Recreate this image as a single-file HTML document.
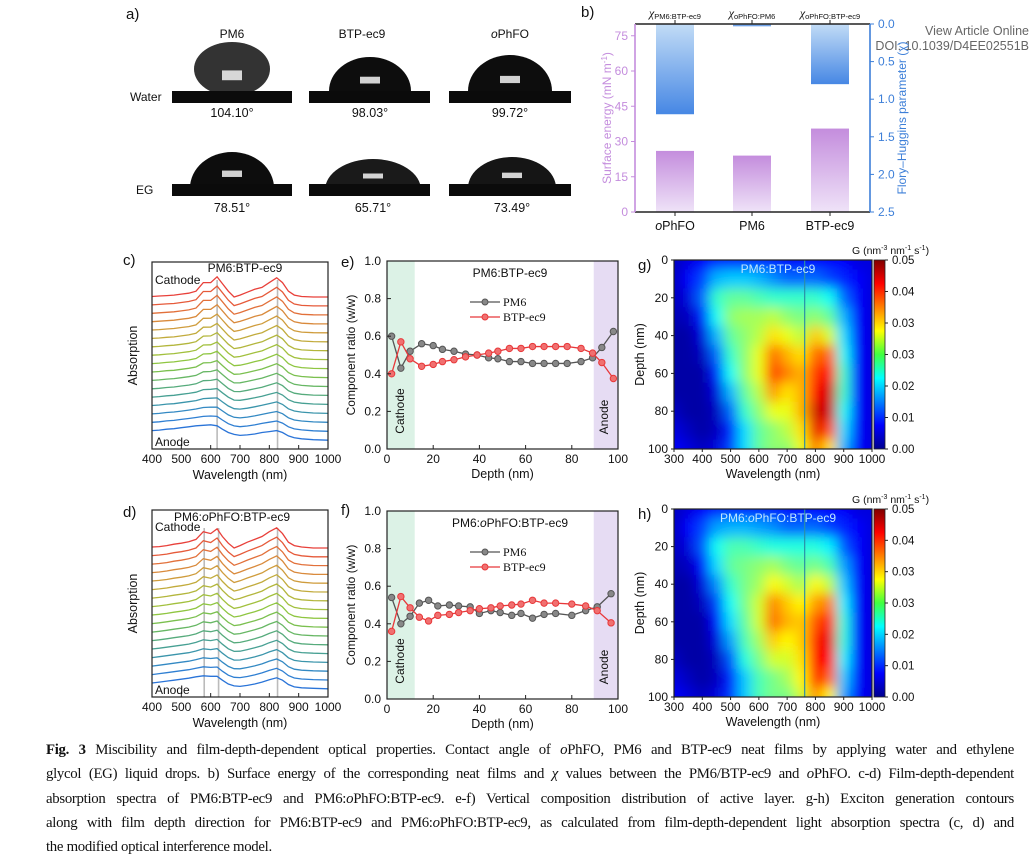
<!DOCTYPE html>
<html><head><meta charset="utf-8">
<style>
html,body{margin:0;padding:0;background:#fff;width:1031px;height:859px;overflow:hidden}
svg{display:block}
text{font-family:"Liberation Sans",sans-serif;fill:#111}
.t{font-size:12px}
.cap{position:absolute;left:46px;top:738px;width:968px;font-family:"Liberation Serif",serif;font-size:14.8px;line-height:24.3px;color:#111;letter-spacing:-0.3px}
.cap div{text-align:justify;text-align-last:justify;white-space:nowrap}
.cap div.last{text-align-last:left}
</style></head><body>
<svg id="fig" width="1031" height="859" viewBox="0 0 1031 859">
<defs id="defs">
<linearGradient id="gp" x1="0" y1="0" x2="0" y2="1"><stop offset="0" stop-color="#c48ddd"/><stop offset="1" stop-color="#efe3f8"/></linearGradient>
<linearGradient id="gb" x1="0" y1="0" x2="0" y2="1"><stop offset="0" stop-color="#c2dcf6"/><stop offset="1" stop-color="#4687e4"/></linearGradient>
<filter id="blur" x="-5%" y="-5%" width="110%" height="110%"><feGaussianBlur stdDeviation="6"/></filter>
<clipPath id="clipg"><rect x="674" y="260" width="198" height="189"/></clipPath>
<clipPath id="cliph"><rect x="674" y="509" width="198" height="188"/></clipPath>
<clipPath id="clipw"><rect x="100" y="0" width="500" height="91"/></clipPath>
<clipPath id="clipe"><rect x="100" y="120" width="500" height="64"/></clipPath>
<linearGradient id="jet" x1="0" y1="1" x2="0" y2="0">
<stop offset="0" stop-color="#00008f"/><stop offset="0.125" stop-color="#0000ff"/><stop offset="0.375" stop-color="#00ffff"/><stop offset="0.5" stop-color="#40ff40"/><stop offset="0.625" stop-color="#ffff00"/><stop offset="0.875" stop-color="#ff0000"/><stop offset="1" stop-color="#800000"/></linearGradient>
</defs>

<text x="1029" y="35" text-anchor="end" style="font-size:12.5px;fill:#666">View Article Online</text>
<text x="1029" y="50" text-anchor="end" style="font-size:12.5px;fill:#666">DOI: 10.1039/D4EE02551B</text>

<g id="pa">
<text x="126" y="19" style="font-size:15px">a)</text>
<text x="232" y="38" class="t" text-anchor="middle">PM6</text>
<text x="362" y="38" class="t" text-anchor="middle">BTP-ec9</text>
<text x="510" y="38" class="t" text-anchor="middle"><tspan font-style="italic">o</tspan>PhFO</text>
<text x="130" y="101" class="t">Water</text>
<text x="136" y="194" class="t">EG</text>
</g>

<g id="pb">
<text x="581" y="17" style="font-size:15px">b)</text>
<text transform="translate(611,118) rotate(-90)" text-anchor="middle" style="font-size:12px;fill:#c48ddd">Surface energy (mN m<tspan dy="-4" font-size="8">-1</tspan><tspan dy="4">)</tspan></text>
<text transform="translate(906,118) rotate(-90)" text-anchor="middle" style="font-size:12px;fill:#3d7fd8">Flory–Huggins parameter (χ)</text>
</g>

<text x="123" y="265" style="font-size:15px">c)</text>
<text x="123" y="517" style="font-size:15px">d)</text>
<text x="341" y="267" style="font-size:15px">e)</text>
<text x="341" y="515" style="font-size:15px">f)</text>
<text x="638" y="270" style="font-size:15px">g)</text>
<text x="638" y="519" style="font-size:15px">h)</text>
</svg>

<div class="cap">
<div><b>Fig. 3</b> Miscibility and film-depth-dependent optical properties. Contact angle of <i>o</i>PhFO, PM6 and BTP-ec9 neat films by applying water and ethylene</div>
<div>glycol (EG) liquid drops. b) Surface energy of the corresponding neat films and <i>χ</i> values between the PM6/BTP-ec9 and <i>o</i>PhFO. c-d) Film-depth-dependent</div>
<div>absorption spectra of PM6:BTP-ec9 and PM6:<i>o</i>PhFO:BTP-ec9. e-f) Vertical composition distribution of active layer. g-h) Exciton generation contours</div>
<div>along with film depth direction for PM6:BTP-ec9 and PM6:<i>o</i>PhFO:BTP-ec9, as calculated from film-depth-dependent light absorption spectra (c, d) and</div>
<div class="last">the modified optical interference model.</div>
</div>

<script>
// ---------- DATA ----------
const dropNames = ['pm6-water','btp-water','ophfo-water','pm6-eg','btp-eg','ophfo-eg'];
const dropAngles = ['104.10°','98.03°','99.72°','78.51°','65.71°','73.49°'];
const bCategories = ['oPhFO','PM6','BTP-ec9'];
const surfaceEnergy = [26, 24, 35.5];
const chiLabels = ['PM6:BTP-ec9','oPhFO:PM6','oPhFO:BTP-ec9'];
const chiValues = [1.2, 0.03, 0.8];
const bLeftTicks = [0, 15, 30, 45, 60, 75];
const bRightTicks = [0.0, 0.5, 1.0, 1.5, 2.0, 2.5];
const specWl = [400,425,450,475,500,525,550,575,600,622,640,660,680,700,725,750,775,800,825,845,865,885,910,950,1000];
const specTopC = [0.1,0.2,0.3,0.4,0.6,0.8,1.2,3.0,3.0,4.2,2.8,1.2,0.0,0.4,1.0,1.6,2.0,3.0,4.0,3.0,1.2,0.4,0.1,0.0,0.0];
const specBotC = [2.0,2.1,2.3,2.4,2.6,2.8,3.0,3.1,3.2,3.0,2.3,1.6,1.2,1.0,1.1,1.3,1.6,1.8,2.0,1.6,0.9,0.5,0.3,0.1,0.0];
const specTopD = [0.2,0.3,0.5,0.8,1.0,1.3,1.8,3.4,3.0,4.0,2.4,1.0,0.0,0.5,1.2,1.8,2.4,3.4,4.2,3.0,1.2,0.5,0.2,0.0,0.0];
const specBotD = [1.2,1.4,1.6,1.8,2.0,2.2,2.5,2.7,2.6,2.6,1.8,1.0,0.6,0.5,0.7,1.0,1.4,1.9,2.3,1.8,0.9,0.4,0.2,0.1,0.0];
const curveMix = [0,0.06,0.12,0.18,0.25,0.31,0.37,0.43,0.5,0.56,0.62,0.68,0.75,0.81,0.87,0.93,1];
const curveColors = ['#e8403a','#e65a3a','#e2703a','#d98a3c','#cf9c3c','#c2ab3c','#b3b63c','#a2c03d','#8fc641','#7bc04f','#67b764','#56ab7c','#47a093','#3b95ab','#3389c3','#2f7fd2','#2a74d8'];
const cGuides = [622, 828];
const dGuides = [578, 627, 828];
const specXTicks = [400,500,600,700,800,900,1000];
const depthE = [2,6,10,15,20,24,29,34,39,44,48,53,58,63,68,73,78,84,89,93,98];
const pm6E = [.60,.43,.52,.56,.55,.53,.52,.505,.50,.485,.48,.465,.465,.455,.455,.455,.455,.465,.485,.54,.625];
const btpE = [.40,.57,.48,.44,.45,.465,.475,.49,.50,.51,.52,.535,.535,.545,.545,.545,.545,.535,.51,.46,.375];
const depthF = [2,6,10,14,18,22,27,31,36,40,45,49,54,58,63,68,73,80,86,91,97];
const pm6F = [.54,.40,.44,.51,.525,.495,.50,.495,.49,.455,.47,.46,.445,.455,.43,.45,.455,.445,.47,.49,.56];
const btpF = [.36,.545,.485,.435,.415,.445,.45,.46,.47,.48,.485,.495,.50,.505,.525,.51,.51,.505,.495,.47,.405];
const ratioTicks = [0,0.2,0.4,0.6,0.8,1.0];
const depthTicks = [0,20,40,60,80,100];
const hmWl = [300,350,400,450,500,550,600,650,700,750,800,850,900,950,1000];
const hmDepth = [0,10,20,30,40,50,60,70,80,90,100];
const hmG = [
[.006,.008,.010,.012,.012,.012,.012,.012,.010,.010,.010,.010,.010,.008,.008],
[.006,.010,.014,.020,.021,.021,.020,.018,.016,.016,.016,.014,.012,.010,.008],
[.006,.008,.016,.026,.028,.028,.027,.026,.026,.026,.026,.024,.016,.010,.008],
[.005,.006,.012,.024,.030,.031,.031,.032,.030,.029,.030,.028,.020,.010,.008],
[.004,.004,.008,.020,.028,.030,.032,.036,.034,.032,.037,.033,.022,.010,.008],
[.004,.004,.006,.016,.026,.030,.034,.041,.038,.036,.041,.041,.024,.010,.008],
[.004,.004,.004,.012,.024,.030,.034,.043,.040,.038,.043,.045,.026,.010,.008],
[.004,.004,.004,.008,.020,.028,.032,.039,.036,.038,.045,.047,.026,.010,.008],
[.006,.004,.004,.006,.016,.026,.030,.034,.034,.038,.047,.047,.024,.010,.008],
[.008,.006,.004,.006,.012,.022,.028,.030,.032,.036,.046,.042,.022,.010,.008],
[.010,.008,.006,.008,.014,.022,.028,.030,.030,.034,.040,.036,.020,.010,.008]];
const hmH = [
[.006,.008,.010,.012,.012,.012,.012,.012,.010,.010,.010,.010,.010,.008,.008],
[.006,.010,.014,.019,.020,.020,.019,.018,.016,.016,.016,.014,.012,.010,.008],
[.006,.008,.015,.024,.027,.027,.026,.025,.025,.025,.025,.023,.015,.010,.008],
[.005,.006,.011,.022,.028,.029,.030,.031,.029,.028,.029,.027,.019,.010,.008],
[.004,.004,.008,.018,.026,.029,.031,.035,.033,.031,.035,.032,.021,.010,.008],
[.004,.004,.006,.014,.024,.029,.033,.040,.037,.035,.039,.040,.023,.010,.008],
[.004,.004,.004,.011,.022,.028,.033,.041,.038,.037,.042,.044,.025,.010,.008],
[.004,.004,.004,.008,.019,.027,.031,.037,.035,.037,.044,.046,.025,.010,.008],
[.006,.004,.004,.006,.015,.025,.029,.033,.033,.036,.045,.045,.023,.010,.008],
[.008,.006,.004,.006,.012,.021,.027,.029,.031,.035,.044,.041,.021,.010,.008],
[.010,.008,.006,.008,.013,.021,.027,.029,.029,.033,.039,.035,.019,.010,.008]];
const hmXTicks = [300,400,500,600,700,800,900,1000];
const cbTicks = ['0.00','0.01','0.02','0.03','0.03','0.04','0.05'];

// ---------- DRAW ----------
const NS='http://www.w3.org/2000/svg';
const svg=document.getElementById('fig');
function mk(tag,parent){const e=document.createElementNS(NS,tag);(parent||svg).appendChild(e);return e;}
function set(e,o){for(const k in o)e.setAttribute(k,o[k]);return e;}
function txt(parent,x,y,s,anchor,size,fill){const t=mk('text',parent);set(t,{x:x,y:y,'text-anchor':anchor||'middle'});t.style.fontSize=(size||12)+'px';if(fill)t.style.fill=fill;t.textContent=s;return t;}

// panel a drops
const pa=document.getElementById('pa');
const dropCx=[[232,370,510],[232,373,512]], subX=[[172,292],[309,430],[449,571]];
const dropEll=[[38,27,-22],[41,34,0],[42,36,0],[42,36,4],[48,31,6],[44,31,4]];
const dropFill=['#333','#0d0d0d','#0d0d0d','#0d0d0d','#1a1a1a','#151515'];
for(let i=0;i<6;i++){
  const col=i%3,row=Math.floor(i/3);
  const sy=row===0?91:184;
  const g=mk('g',pa);
  
  
  const cx=dropCx[row][col], e=dropEll[i];
  const el=set(mk('ellipse',g),{cx:cx,cy:sy+e[2],rx:e[0],ry:e[1],fill:dropFill[i],'clip-path':row===0?'url(#clipw)':'url(#clipe)'});
  set(mk('rect',g),{x:subX[col][0],y:sy,width:subX[col][1]-subX[col][0],height:12,fill:'#0b0b0b'});
  const top=sy+e[2]-e[1], h=sy-top;
  set(mk('rect',g),{x:cx-10,y:sy-h*0.42,width:20,height:Math.max(5,h*0.2),fill:'#f4f4f4',opacity:0.85});
  const t=txt(pa,cx,row===0?117:212,dropAngles[i],'middle',12.5);
  
  
}

// panel b
const pb=document.getElementById('pb');
const bx0=635,bx1=870,by0=24,by1=212;
const yL=v=>by1-(v/80)*(by1-by0);
const yR=v=>by0+(v/2.5)*(by1-by0);
const bCenters=[675,752,830], bw=38;
for(let i=0;i<3;i++){
  const r=set(mk('rect',pb),{x:bCenters[i]-bw/2,y:yL(surfaceEnergy[i]),width:bw,height:by1-yL(surfaceEnergy[i]),fill:'url(#gp)'});
  
  
  const c=set(mk('rect',pb),{x:bCenters[i]-bw/2,y:by0,width:bw,height:yR(chiValues[i])-by0,fill:'url(#gb)'});
  
  
  const lab=mk('text',pb);set(lab,{x:bCenters[i],y:230,'text-anchor':'middle'});lab.style.fontSize='12.5px';
  if(bCategories[i]==='oPhFO'){lab.innerHTML='<tspan font-style="italic">o</tspan>PhFO';}else lab.textContent=bCategories[i];
  
  
  const ct=mk('text',pb);set(ct,{x:bCenters[i],y:17,'text-anchor':'middle'});ct.style.fontSize='12px';
  ct.innerHTML='<tspan font-style="italic" font-family="Liberation Serif">χ</tspan><tspan font-size="7.5" dy="2">'+chiLabels[i]+'</tspan>';
  
  
  set(mk('line',pb),{x1:bCenters[i],x2:bCenters[i],y1:by1,y2:by1+4,stroke:'#222'});
  set(mk('line',pb),{x1:bCenters[i],x2:bCenters[i],y1:by0,y2:by0-4,stroke:'#222'});
}
set(mk('line',pb),{x1:bx0,x2:bx1,y1:by0,y2:by0,stroke:'#222','stroke-width':1.4});
set(mk('line',pb),{x1:bx0,x2:bx1,y1:by1,y2:by1,stroke:'#222','stroke-width':1.4});
set(mk('line',pb),{x1:bx0,x2:bx0,y1:by0,y2:by1,stroke:'#c48ddd','stroke-width':1.6});
set(mk('line',pb),{x1:bx1,x2:bx1,y1:by0,y2:by1,stroke:'#3d7fd8','stroke-width':1.6});
bLeftTicks.forEach(v=>{const y=yL(v);set(mk('line',pb),{x1:bx0-4,x2:bx0,y1:y,y2:y,stroke:'#c48ddd'});
  const t=txt(pb,bx0-7,y+4,String(v),'end',12,'#c48ddd');});
bRightTicks.forEach(v=>{const y=yR(v);set(mk('line',pb),{x1:bx1,x2:bx1+4,y1:y,y2:y,stroke:'#3d7fd8'});
  const t=txt(pb,bx1+8,y+4,v.toFixed(1),'start',12,'#3d7fd8');});

function frame(g,x0,x1,y0,y1){set(mk('rect',g),{x:x0,y:y0,width:x1-x0,height:y1-y0,fill:'none',stroke:'#222','stroke-width':1.2});}

function spectra(name,x0,x1,y0,y1,top,bot,guides,baseTop,gap,title,titleX,titleY,cathY){
  const g=mk('g');
  const xs=w=>x0+(w-400)/600*(x1-x0);
  guides.forEach(w=>{const l=set(mk('line',g),{x1:xs(w),x2:xs(w),y1:y0+18,y2:y1,stroke:'#bbb','stroke-width':1.6});
    });
  curveMix.forEach((m,i)=>{
    const base=baseTop+i*gap;
    const pts=specWl.map((w,k)=>`${xs(w).toFixed(1)},${(base-4.8*((1-m)*top[k]+m*bot[k])).toFixed(1)}`).join(' ');
    const p=set(mk('polyline',g),{points:pts,fill:'none',stroke:curveColors[i],'stroke-width':1.3});
    
  });
  frame(g,x0,x1,y0,y1);
  specXTicks.forEach(w=>{set(mk('line',g),{x1:xs(w),x2:xs(w),y1:y1,y2:y1-4,stroke:'#222'});
    const t=txt(g,xs(w),y1+14,String(w),'middle',12);});
  const xt=txt(g,(x0+x1)/2,y1+30,'Wavelength (nm)','middle',12.5);
  const yt=txt(g,0,0,'Absorption','middle',12.5);set(yt,{transform:`translate(${x0-15},${(y0+y1)/2}) rotate(-90)`});
  
  const tt=mk('text',g);set(tt,{x:titleX,y:titleY,'text-anchor':'middle'});tt.style.fontSize='12px';tt.innerHTML=title;
  
  const ca=txt(g,x0+3,cathY,'Cathode','start',12);
  const an=txt(g,x0+3,y1-3,'Anode','start',12);
}
spectra('absorption-spectra-c',152,328,262,449,specTopC,specBotC,cGuides,297,8.95,'PM6:BTP-ec9',245,272,284);
spectra('absorption-spectra-d',152,328,510,697,specTopD,specBotD,dGuides,548,8.8,'PM6:<tspan font-style="italic">o</tspan>PhFO:BTP-ec9',232,521,531);

function comp(name,y0,y1,dep,pm,bt,title){
  const x0=387,x1=618;
  const g=mk('g');
  const xs=d=>x0+d/100*(x1-x0), ys=v=>y1-v*(y1-y0);
  const cb=set(mk('rect',g),{x:xs(0),y:y0,width:xs(12)-xs(0),height:y1-y0,fill:'#dcf2e6'});
  const ab=set(mk('rect',g),{x:xs(89.5),y:y0,width:xs(100)-xs(89.5),height:y1-y0,fill:'#e6dcf3'});
  [[pm,'#555','#888','pm6'],[bt,'#e8383a','#f07070','btp-ec9']].forEach(([arr,c,cf,n])=>{
    const l=set(mk('polyline',g),{points:arr.map((v,i)=>xs(dep[i])+','+ys(v)).join(' '),fill:'none',stroke:c,'stroke-width':1.3});
    
    arr.forEach((v,i)=>{const p=set(mk('circle',g),{cx:xs(dep[i]),cy:ys(v),r:3.2,fill:cf,stroke:c,'stroke-width':1});
      });
  });
  frame(g,x0,x1,y0,y1);
  ratioTicks.forEach(v=>{set(mk('line',g),{x1:x0,x2:x0+4,y1:ys(v),y2:ys(v),stroke:'#222'});
    const t=txt(g,x0-6,ys(v)+4,v.toFixed(1),'end',12);});
  depthTicks.forEach(v=>{set(mk('line',g),{x1:xs(v),x2:xs(v),y1:y1,y2:y1-4,stroke:'#222'});
    const t=txt(g,xs(v),y1+14,String(v),'middle',12);});
  const xt=txt(g,(x0+x1)/2,y1+29,'Depth (nm)','middle',12.5);
  const yt=txt(g,0,0,'Component ratio (w/w)','middle',12);set(yt,{transform:`translate(355,${(y0+y1)/2}) rotate(-90)`});
  
  const tt=mk('text',g);set(tt,{x:510,y:y0+16,'text-anchor':'middle'});tt.style.fontSize='12px';tt.innerHTML=title;
  
  const ct=txt(g,0,0,'Cathode','middle',12);set(ct,{transform:`translate(404,${y1-38}) rotate(-90)`});
  const at=txt(g,0,0,'Anode','middle',12);set(at,{transform:`translate(608,${y1-32}) rotate(-90)`});
  [['PM6','#555','#888',y0+45],['BTP-ec9','#e8383a','#f07070',y0+60]].forEach(([s,c,cf,y])=>{
    set(mk('line',g),{x1:470,x2:500,y1:y-4,y2:y-4,stroke:c,'stroke-width':1.3});
    set(mk('circle',g),{cx:485,cy:y-4,r:3,fill:cf,stroke:c});
    const t=txt(g,503,y,s,'start',12);t.style.fontFamily='"Liberation Serif",serif';
    
  });
}
comp('composition-chart-e',261,449,depthE,pm6E,btpE,'PM6:BTP-ec9');
comp('composition-chart-f',511,699,depthF,pm6F,btpF,'PM6:<tspan font-style="italic">o</tspan>PhFO:BTP-ec9');

function jet(v){const t=Math.pow(Math.max(0,Math.min(1,v/0.05)),1.3);
  const r=Math.max(0,Math.min(1,1.5-Math.abs(4*t-3))),g=Math.max(0,Math.min(1,1.5-Math.abs(4*t-2))),b=Math.max(0,Math.min(1,1.5-Math.abs(4*t-1)));
  return `rgb(${Math.round(r*255)},${Math.round(g*255)},${Math.round(b*255)})`;}
function heat(name,y0,y1,mat,clip,title){
  const x0=674,x1=872;
  const g=mk('g');
  const xs=w=>x0+(w-300)/700*(x1-x0), ys=d=>y0+d/100*(y1-y0);
  const cg=mk('g',g);cg.setAttribute('clip-path','url(#'+clip+')');
  set(mk('rect',cg),{x:x0,y:y0,width:x1-x0,height:y1-y0,fill:jet(0.008)});
  const cells=mk('g',cg);cells.setAttribute('filter','url(#blur)');
  const dx=(x1-x0)/(hmWl.length-1), dy=(y1-y0)/(hmDepth.length-1);
  hmDepth.forEach((d,r)=>hmWl.forEach((w,c)=>{
    const cell=set(mk('rect',cells),{x:xs(w)-dx/2,y:ys(d)-dy/2,width:dx+0.5,height:dy+0.5,fill:jet(mat[r][c])});
    
  }));
  set(mk('line',cg),{x1:xs(762),x2:xs(762),y1:y0,y2:y1,stroke:'#2a8fa8','stroke-width':1.2});
  frame(g,x0,x1,y0,y1);
  depthTicks.forEach(v=>{set(mk('line',g),{x1:x0-3,x2:x0,y1:ys(v),y2:ys(v),stroke:'#222'});
    const t=txt(g,x0-6,ys(v)+4,String(v),'end',12);});
  hmXTicks.forEach(v=>{set(mk('line',g),{x1:xs(v),x2:xs(v),y1:y1,y2:y1+3,stroke:'#222'});
    const t=txt(g,xs(v),y1+14,String(v),'middle',12);});
  const xt=txt(g,(x0+x1)/2,y1+29,'Wavelength (nm)','middle',12.5);
  const yt=txt(g,0,0,'Depth (nm)','middle',12.5);set(yt,{transform:`translate(644,${(y0+y1)/2}) rotate(-90)`});
  
  const tt=mk('text',g);set(tt,{x:778,y:y0+13,'text-anchor':'middle'});tt.style.fontSize='12px';tt.style.fill='#bfe6ff';tt.innerHTML=title;
  
  const cb=set(mk('rect',g),{x:874,y:y0,width:11,height:y1-y0,fill:'url(#jet)',stroke:'#222','stroke-width':0.8});
  
  cbTicks.forEach((s,i)=>{const y=y1-i*(y1-y0)/(cbTicks.length-1);
    set(mk('line',g),{x1:885,x2:888,y1:y,y2:y,stroke:'#222'});
    const t=txt(g,892,y+4,s,'start',11.5);});
  const ct=mk('text',g);set(ct,{x:852,y:y0-6,'text-anchor':'start'});ct.style.fontSize='10.5px';
  ct.innerHTML='G (nm<tspan dy="-4" font-size="7">-3</tspan><tspan dy="4"> nm</tspan><tspan dy="-4" font-size="7">-1</tspan><tspan dy="4"> s</tspan><tspan dy="-4" font-size="7">-1</tspan><tspan dy="4">)</tspan>';
  
}
heat('exciton-heatmap-g',260,449,hmG,'clipg','PM6:BTP-ec9');
heat('exciton-heatmap-h',509,697,hmH,'cliph','PM6:<tspan font-style="italic">o</tspan>PhFO:BTP-ec9');
</script>
</body></html>
